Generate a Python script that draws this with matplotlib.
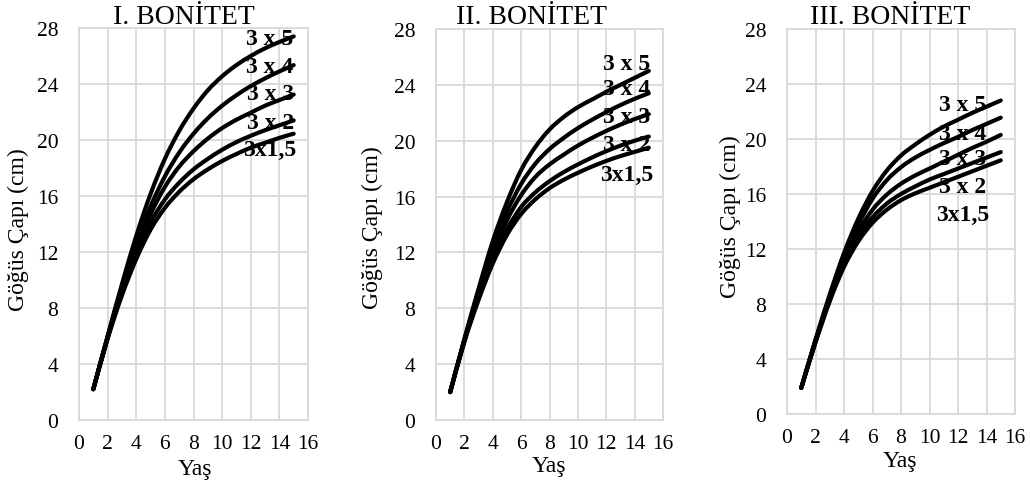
import matplotlib
matplotlib.use("Agg")
import matplotlib.pyplot as plt
from matplotlib.path import Path
from matplotlib.patches import PathPatch
import numpy as np

plt.rcParams['font.family'] = ['Liberation Serif', 'DejaVu Serif']

# ---- data ----
ages = [1, 2, 3, 4, 5, 6, 7, 8, 9, 10, 11, 12, 13, 14, 15]
series_names = ["3 x 5", "3 x 4", "3 x 3", "3 x 2", "3x1,5"]
panel_titles = ["I. BONİTET", "II. BONİTET", "III. BONİTET"]
x_label = "Yaş"
y_label = "Göğüs Çapı (cm)"
x_ticks = [0, 2, 4, 6, 8, 10, 12, 14, 16]
y_ticks = [0, 4, 8, 12, 16, 20, 24, 28]

bon1_3x5  = [2.2, 6.0, 9.7, 13.15, 16.15, 18.65, 20.65, 22.25, 23.55, 24.55, 25.35, 26.0, 26.55, 27.0, 27.4]
bon1_3x4  = [2.2, 5.95, 9.5, 12.6, 15.25, 17.4, 19.1, 20.45, 21.55, 22.45, 23.2, 23.85, 24.4, 24.9, 25.35]
bon1_3x3  = [2.2, 5.9, 9.3, 12.25, 14.7, 16.65, 18.1, 19.2, 20.1, 20.85, 21.45, 21.95, 22.45, 22.85, 23.25]
bon1_3x2  = [2.2, 5.85, 9.1, 11.85, 14.1, 15.75, 16.95, 17.9, 18.65, 19.3, 19.85, 20.3, 20.7, 21.05, 21.4]
bon1_3x15 = [2.2, 5.8, 8.9, 11.5, 13.6, 15.15, 16.3, 17.2, 17.9, 18.5, 19.0, 19.45, 19.8, 20.15, 20.45]

bon2_3x5  = [2.0, 5.8, 9.4, 12.8, 15.6, 17.9, 19.55, 20.8, 21.7, 22.4, 22.95, 23.5, 24.0, 24.5, 25.0]
bon2_3x4  = [2.0, 5.75, 9.2, 12.3, 14.9, 16.9, 18.35, 19.4, 20.2, 20.9, 21.5, 22.05, 22.55, 23.0, 23.4]
bon2_3x3  = [2.0, 5.7, 9.0, 11.9, 14.3, 16.1, 17.4, 18.3, 19.0, 19.65, 20.2, 20.7, 21.15, 21.55, 21.9]
bon2_3x2  = [2.0, 5.65, 8.8, 11.5, 13.65, 15.25, 16.3, 17.1, 17.75, 18.3, 18.8, 19.25, 19.65, 20.0, 20.3]
bon2_3x15 = [2.0, 5.6, 8.6, 11.2, 13.25, 14.75, 15.8, 16.6, 17.2, 17.7, 18.15, 18.55, 18.9, 19.2, 19.5]

bon3_3x5  = [1.9, 5.4, 8.7, 11.7, 14.2, 16.2, 17.7, 18.8, 19.6, 20.3, 20.9, 21.4, 21.9, 22.35, 22.8]
bon3_3x4  = [1.9, 5.35, 8.5, 11.35, 13.75, 15.65, 17.0, 17.95, 18.65, 19.2, 19.7, 20.15, 20.65, 21.1, 21.55]
bon3_3x3  = [1.9, 5.3, 8.4, 11.1, 13.25, 14.85, 15.95, 16.75, 17.35, 17.85, 18.35, 18.85, 19.35, 19.8, 20.3]
bon3_3x2  = [1.9, 5.25, 8.3, 10.9, 12.9, 14.3, 15.3, 16.0, 16.55, 17.05, 17.45, 17.85, 18.25, 18.65, 19.05]
bon3_3x15 = [1.9, 5.2, 8.2, 10.7, 12.55, 13.9, 14.85, 15.55, 16.05, 16.45, 16.85, 17.25, 17.65, 18.05, 18.45]

panels = [
    [bon1_3x5, bon1_3x4, bon1_3x3, bon1_3x2, bon1_3x15],
    [bon2_3x5, bon2_3x4, bon2_3x3, bon2_3x2, bon2_3x15],
    [bon3_3x5, bon3_3x4, bon3_3x3, bon3_3x2, bon3_3x15],
]

# ---- layout / style ----
W, H = 1030, 489
axes_px = [(79, 29, 308, 421), (436, 30, 663, 421), (787, 30, 1015, 415)]
label_x = [13.35, 13.44, 12.34]
label_y = [
    [26.86, 24.86, 22.93, 20.86, 18.93],
    [25.14, 23.35, 21.35, 19.34, 17.19],
    [22.11, 20.0, 18.18, 16.15, 14.11],
]
title_px = [(184, 17), (532, 17), (890, 17)]
ylab_px = [(18, 230), (372, 228), (730, 217)]
xlab_px = [(195, 470), (549, 467), (900, 462)]
grid_col = "#d9d9d9"


def smooth_path(x, y, t=1.0 / 6.0):
    x = np.asarray(x, float)
    y = np.asarray(y, float)
    verts = [(x[0], y[0])]
    codes = [Path.MOVETO]
    n = len(x)
    for i in range(n - 1):
        i0 = max(i - 1, 0)
        i3 = min(i + 2, n - 1)
        c1 = (x[i] + (x[i + 1] - x[i0]) * t, y[i] + (y[i + 1] - y[i0]) * t)
        c2 = (x[i + 1] - (x[i3] - x[i]) * t, y[i + 1] - (y[i3] - y[i]) * t)
        verts += [c1, c2, (x[i + 1], y[i + 1])]
        codes += [Path.CURVE4] * 3
    return Path(verts, codes)


fig = plt.figure(figsize=(W / 100, H / 100), dpi=100)

for k in range(3):
    l, t, r, b = axes_px[k]
    ax = fig.add_axes([l / W, 1 - b / H, (r - l) / W, (b - t) / H])
    ax.set_xlim(0, 16)
    ax.set_ylim(0, 28)
    ax.set_xticks(x_ticks)
    ax.set_yticks(y_ticks)
    ax.grid(True, color=grid_col, linewidth=1.3)
    ax.set_axisbelow(True)
    for s in ax.spines.values():
        s.set_color(grid_col)
        s.set_linewidth(1.3)
    ax.tick_params(length=0, labelsize=15.5, colors="#000000")
    ax.tick_params(axis='x', pad=10)
    ax.tick_params(axis='y', pad=15)
    for yv in panels[k]:
        patch = PathPatch(smooth_path(ages, yv), facecolor='none', edgecolor='black',
                          linewidth=3.0, capstyle='round', joinstyle='round')
        ax.add_patch(patch)
    for name, ly in zip(series_names, label_y[k]):
        ax.text(label_x[k], ly, name, ha='center', va='baseline', fontsize=17,
                fontweight='bold', color='black', zorder=5)
    fig.text(title_px[k][0] / W, 1 - title_px[k][1] / H, panel_titles[k],
             ha='center', va='center', fontsize=20)
    fig.text(ylab_px[k][0] / W, 1 - ylab_px[k][1] / H, y_label, rotation=90,
             ha='center', va='center', fontsize=17)
    fig.text(xlab_px[k][0] / W, 1 - xlab_px[k][1] / H, x_label,
             ha='center', va='center', fontsize=17)

fig.savefig("out.png", dpi=100, facecolor='white')
